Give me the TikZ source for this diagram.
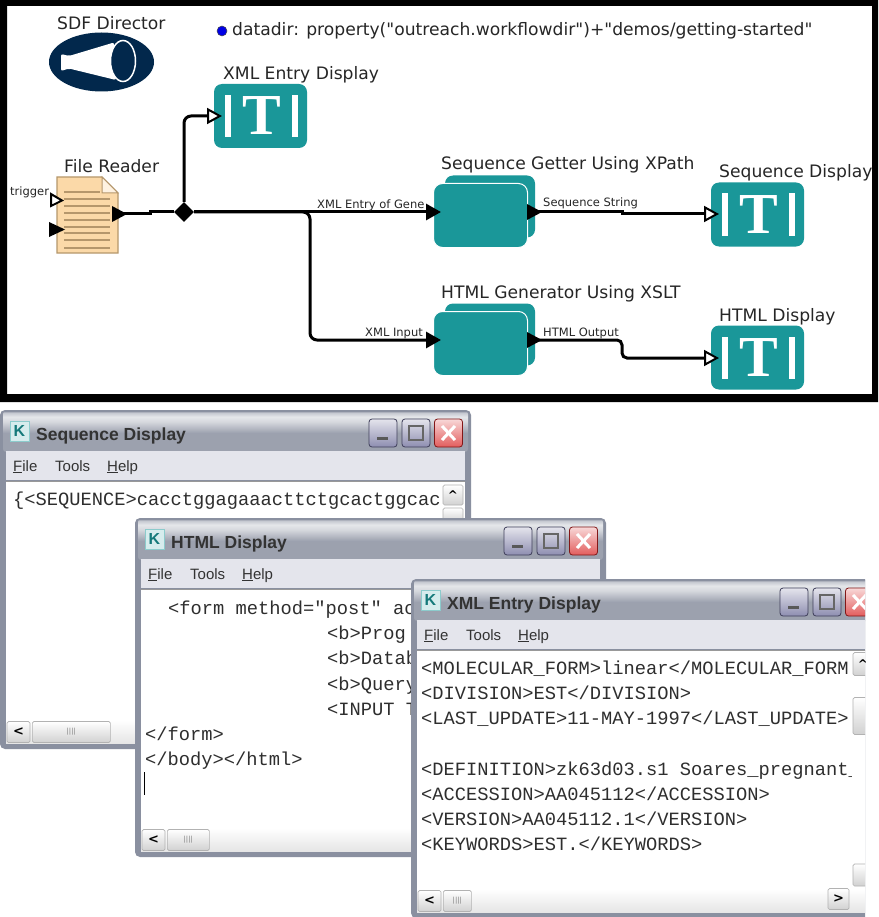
\documentclass[tikz,border=0pt]{standalone}
\usepackage{fontspec}
\setmainfont{DejaVu Sans}
\newfontfamily\diagf{DejaVu Sans}
\newfontfamily\monof{Liberation Mono}
\newfontfamily\winf{Liberation Sans}
\newfontfamily\serf{Liberation Serif}
\usetikzlibrary{arrows.meta,shapes.geometric,calc}
\definecolor{teal1}{HTML}{1A9799}
\definecolor{navy1}{HTML}{02284C}
\definecolor{paper}{HTML}{FBD9A8}
\definecolor{paperline}{HTML}{B5976C}
\definecolor{winedge}{HTML}{8A90A0}
\definecolor{winmenu}{HTML}{E4E5EC}
\definecolor{txt}{HTML}{2E2E2E}
\pgfdeclareverticalshading{wintitle}{100bp}{
  color(0bp)=(winedge!85!white);
  color(25bp)=(winedge!85!white);
  color(48bp)=(winedge!85!white);
  color(62bp)=(winedge!35!white);
  color(68bp)=(winedge!22!white);
  color(73bp)=(winedge!50!white);
  color(75bp)=(winedge!100!black);
  color(100bp)=(winedge!100!black)}
\tikzset{
  lbl/.style={anchor=base west,inner sep=0pt,font=\diagf\fontsize{17.15}{20}\selectfont,text=black!85},
  elbl/.style={anchor=base west,inner sep=0pt,font=\diagf\fontsize{11.5}{14}\selectfont,text=black!85},
  wire/.style={line width=3pt,rounded corners=7pt},
  openin/.style={wire,-{Triangle[length=15pt,width=16pt,fill=white,line width=2pt]}},
  fullin/.style={wire,-{Triangle[length=15pt,width=16pt]}},
  tbox/.style={draw=none,fill=teal1,rounded corners=8pt,minimum width=93pt,minimum height=64pt,inner sep=0pt},
  actor/.style={draw=white,line width=1pt,fill=teal1,rounded corners=9pt,minimum width=94pt,minimum height=64pt,inner sep=0pt},
  actorback/.style={fill=teal1,rounded corners=8pt,minimum width=90pt,minimum height=62pt,inner sep=0pt},
  mono/.style={anchor=base west,inner sep=0pt,font=\monof\fontsize{18.75}{22}\selectfont,text=txt},
  wtitle/.style={anchor=base west,inner sep=0pt,font=\winf\bfseries\fontsize{17.5}{20}\selectfont,text=black!80},
  wmenu/.style={anchor=base west,inner sep=0pt,font=\winf\fontsize{15}{18}\selectfont,text=black!80},
  sbtn/.style={draw=black!30,line width=.7pt,rounded corners=1.5pt,top color=white,bottom color=black!18,inner sep=0pt},
}
\newcommand{\tbars}[1]{%
  \fill[white] ([xshift=11pt,yshift=21pt]#1.west) rectangle ([xshift=17pt,yshift=-21pt]#1.west);
  \fill[white] ([xshift=-15pt,yshift=21pt]#1.east) rectangle ([xshift=-9pt,yshift=-21pt]#1.east);
}
\newcommand{\capbtn}[4]{% name, x, y(rel), colour
  \node[draw=#4!60!black,line width=.8pt,rounded corners=3pt,top color=#4!18!white,bottom color=#4!75!white,minimum width=28pt,minimum height=28pt,inner sep=0pt] (#1) at (#2,#3) {};
}
\newcommand{\win}[5]{% name,x,y,title,thumb width
  \begin{scope}[shift={(#2,#3)}]
    \fill[winedge,rounded corners=5pt] (0,0) rectangle (471,339);
    \shade[rounded corners=3pt,shading=wintitle] (3,1) rectangle (468,42);
    \fill[winmenu] (6,41) rectangle (465,70);
    \fill[white] (6,72) rectangle (465,333);
    \draw[black!40,line width=.6pt] (6,71) -- (465,71);
    \shade[top color=white,bottom color=black!10] (6,310) rectangle (465,333);
    \node[draw=teal1!50,line width=.5pt,fill=teal1!18,minimum width=19pt,minimum height=20pt,inner sep=0pt,text=teal1!80!black,font=\winf\bfseries\fontsize{16}{16}\selectfont] (#1icon) at (19.5,21) {K};
    \node[wtitle] (#1title) at (36,30) {#4};
    \node[wmenu] (#1file) at (13,61) {\underline{F}ile};
    \node[wmenu] (#1tools) at (55,61) {Tools};
    \node[wmenu] (#1help) at (107,61) {\underline{H}elp};
    \capbtn{#1min}{383}{23}{blue!18!gray}
    \capbtn{#1max}{416}{23}{blue!18!gray}
    \capbtn{#1cls}{448.5}{23}{red!70!gray}
    \fill[black!65] (377,27) rectangle (388,30);
    \draw[black!60,line width=1.8pt] (409,16) rectangle (423,30);
    \draw[white,line width=3pt] (442,16) -- (455,30) (442,30) -- (455,16);
    \node[sbtn,minimum width=23pt,minimum height=21pt,font=\bfseries\fontsize{13}{13}\selectfont] (#1left) at (18.5,322) {<};
    \node[sbtn,anchor=west,minimum width=#5pt,minimum height=21pt,font=\fontsize{7}{7}\selectfont,text=black!50] (#1thumb) at (32,322) {||||};
  \end{scope}
}
\begin{document}
\begin{tikzpicture}[x=1pt,y=-1pt]
\useasboundingbox (0,0) rectangle (878,917);
\fill[white] (0,0) rectangle (878,917);
% ---- outer frame
\fill[black,even odd rule] (0,0) rectangle (878,402) (7,6) rectangle (872,394);
% ---- director
\node[ellipse,fill=navy1,minimum width=105pt,minimum height=59pt,inner sep=0pt] (dir) at (101.5,62) {};
\fill[white,rounded corners=2pt] (61,54) -- (69,56) -- (114,42.5) -- (116,80) -- (69,68.5) -- (61,71) -- cycle;
\node[ellipse,draw=white,line width=1.5pt,fill=navy1,minimum width=25pt,minimum height=41pt,inner sep=0pt] (dirlens) at (123,61) {};
\node[lbl] (dirl) at (57,30) {SDF Director};
% ---- parameter
\node[circle,draw=black!70,line width=.5pt,fill=blue!90!black,minimum size=10pt,inner sep=0pt] (pdot) at (222,31) {};
\node[lbl] (param) at (232,36) {datadir: property("outreach.workflowdir")+"demos/getting-started"};
% ---- displays
\node[tbox] (xmld) at (260.5,116) {};
\node[tbox] (seqd) at (757.5,214.5) {};
\node[tbox] (htmd) at (757.5,357.5) {};
\foreach \n in {xmld,seqd,htmd}{
  \tbars{\n}
  \node[inner sep=0pt,text=white,font=\serf\bfseries\fontsize{58}{58}\selectfont] (\n t) at ([xshift=1pt]\n.center) {T};
}
\node[lbl] (xmll) at (223,80) {XML Entry Display};
\node[lbl] (seql) at (719,178) {Sequence Display};
\node[lbl] (html) at (719,321) {HTML Display};
% ---- composite actors
\node[actorback] (getb) at (490,206.5) {};
\node[actor] (get) at (480.5,215.5) {};
\node[actorback] (genb) at (490,334.5) {};
\node[actor] (gen) at (480.5,343.5) {};
\node[lbl] (getl) at (441,170) {Sequence Getter Using XPath};
\node[lbl] (genl) at (441,298) {HTML Generator Using XSLT};
% ---- file reader
\filldraw[fill=paper,draw=paperline,line width=1.2pt] (57,177) -- (102,177) -- (118,193) -- (118,253) -- (57,253) -- cycle;
\foreach \yy/\xe in {192/100,199/110,206/110,213/110,220/110,227/110,233/110,240/110,248/110}{
  \draw[paperline,line width=1.1pt] (64,\yy) -- (\xe,\yy);
}
\filldraw[fill=paper!35!white,draw=paperline,line width=1pt] (102,177) -- (102,193) -- (118,193) -- cycle;
\node[lbl] (frl) at (64,173) {File Reader};
\node[elbl] (trig) at (10,196) {trigger};
\filldraw[fill=white,draw=black,line width=2pt] (51,194) -- (62,200.5) -- (51,206) -- cycle;
\fill[black] (49,222) -- (65,229.5) -- (49,237) -- cycle;
\fill[black] (112,206) -- (127,214) -- (112,222) -- cycle;
% ---- coordinates
\coordinate (frout) at (122,214);
\coordinate (s1) at (150,214);
\coordinate (s2) at (150,212);
\node[diamond,fill=black,minimum width=20pt,minimum height=20pt,inner sep=0pt] (junc) at (184,212) {};
\coordinate (xup) at (184,116);
\coordinate (xin) at (222,116);
\coordinate (getin) at (441,212);
\coordinate (genin) at (441,340);
\coordinate (turn1) at (310,212);
\coordinate (turn2) at (310,340);
\coordinate (getout) at (530,212);
\coordinate (genout) at (530,340);
\coordinate (st1) at (622,212);
\coordinate (st2) at (622,214);
\coordinate (sin) at (719,214);
\coordinate (gt1) at (622,340);
\coordinate (gt2) at (622,358);
\coordinate (hin) at (719,358);
% ---- connectors
\draw[line width=3pt] (frout) -- (s1) -- (s2) -- (junc);
\draw[openin] (junc) -- (xup) -- (xin);
\draw[fullin] (junc) -- (getin);
\draw[fullin] (junc) -- (turn1) -- (turn2) -- (genin);
\fill[black] (527,204) -- (542,212) -- (527,220) -- cycle;
\fill[black] (527,332) -- (542,340) -- (527,348) -- cycle;
\draw[openin,rounded corners=0pt] (getout) -- (st1) -- (st2) -- (sin);
\draw[openin,rounded corners=5pt] (genout) -- (gt1) -- (gt2) -- (hin);
\node[elbl] (e1) at (317,208) {XML Entry of Gene};
\node[elbl] (e2) at (543,207) {Sequence String};
\node[elbl] (e3) at (365,336) {XML Input};
\node[elbl] (e4) at (543,336) {HTML Output};
% ---- sequence window
\win{sw}{0}{410}{Sequence Display}{78}
\node[mono] (sw1) at (13,505) {\{<SEQUENCE>cacctggagaaacttctgcactggcac};
\node[sbtn,minimum width=20pt,minimum height=20pt,font=\bfseries\fontsize{12}{12}\selectfont] (swup) at (453,495) {\textasciicircum};
\node[sbtn,minimum width=20pt,minimum height=14pt] (swv) at (453,515) {};
% ---- html window
\win{hw}{135}{518}{HTML Display}{42}
\node[mono] (h1) at (168,614) {<form method="post" ac};
\node[mono] (h2) at (327,639) {<b>Prog};
\node[mono] (h3) at (327,664) {<b>Datab};
\node[mono] (h4) at (327,690) {<b>Query};
\node[mono] (h5) at (327,715) {<INPUT T};
\node[mono] (h6) at (145,740) {</form>};
\node[mono] (h7) at (145,765) {</body></html>};
\draw[black,line width=1pt] (144.5,772) -- (144.5,795);
% ---- xml window
\begin{scope}
\clip (405,570) rectangle (865,917);
\win{xw}{411}{579}{XML Entry Display}{28}
\node[mono] (x1) at (421,674) {<MOLECULAR\_FORM>linear</MOLECULAR\_FORM};
\node[mono] (x2) at (421,699) {<DIVISION>EST</DIVISION>};
\node[mono] (x3) at (421,724) {<LAST\_UPDATE>11-MAY-1997</LAST\_UPDATE>};
\node[mono] (x4) at (421,775) {<DEFINITION>zk63d03.s1 Soares\_pregnant\_};
\node[mono] (x5) at (421,800) {<ACCESSION>AA045112</ACCESSION>};
\node[mono] (x6) at (421,825) {<VERSION>AA045112.1</VERSION>};
\node[mono] (x7) at (421,850) {<KEYWORDS>EST.</KEYWORDS>};
\fill[white] (852,652) rectangle (865,889);
\node[sbtn,minimum width=20pt,minimum height=23pt,font=\bfseries\fontsize{12}{12}\selectfont] (xup) at (863,664) {\textasciicircum};
\node[sbtn,minimum width=20pt,minimum height=37pt] (xv) at (863,716) {};
\node[sbtn,minimum width=20pt,minimum height=22pt] (xdn) at (863,875) {};
\node[sbtn,minimum width=21pt,minimum height=21pt,font=\bfseries\fontsize{13}{13}\selectfont] (xright) at (838.5,899) {>};
\end{scope}
\end{tikzpicture}
\end{document}
